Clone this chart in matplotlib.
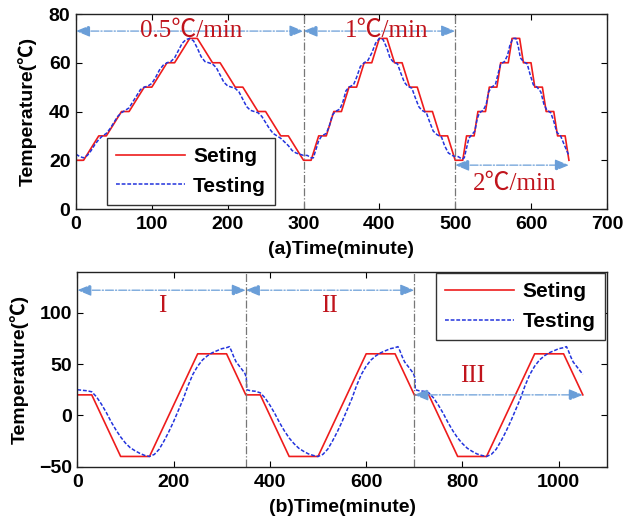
import matplotlib
matplotlib.use("Agg")
import matplotlib.pyplot as plt

# ---------------- data: panel (a) ----------------
set_a_t = [0, 10, 30, 40, 60, 70, 90, 100, 120, 130, 150, 160, 180, 190, 210, 220, 240, 250, 270, 280, 300,
           310, 320, 330, 340, 350, 360, 370, 380, 390, 400, 410, 420, 430, 440, 450, 460, 470, 480, 490, 500,
           510, 515, 525, 530, 540, 545, 555, 560, 570, 575, 585, 590, 600, 605, 615, 620, 630, 635, 645, 650]
set_a_v = [20, 20, 30, 30, 40, 40, 50, 50, 60, 60, 70, 70, 60, 60, 50, 50, 40, 40, 30, 30, 20,
           20, 30, 30, 40, 40, 50, 50, 60, 60, 70, 70, 60, 60, 50, 50, 40, 40, 30, 30, 20,
           20, 30, 30, 40, 40, 50, 50, 60, 60, 70, 70, 60, 60, 50, 50, 40, 40, 30, 30, 20]

test_a_t = [0, 5, 10, 15, 20, 25, 30, 35, 40, 45, 50, 55, 60, 65, 70, 75, 80, 85, 90, 95, 100,
            105, 110, 115, 120, 125, 130, 135, 140, 145, 150, 155, 160, 165, 170, 175, 180, 185, 190, 195, 200,
            205, 210, 215, 220, 225, 230, 235, 240, 245, 250, 255, 260, 265, 270, 275, 280, 285, 290, 295, 300,
            305, 310, 313, 316, 320, 324, 330, 334, 338, 342, 348, 352, 356, 360, 366, 370, 375, 380, 385, 390,
            395, 400, 405, 410, 414, 418, 424, 428, 433, 437, 443, 447, 452, 456, 462, 466, 471, 476, 482, 486,
            491, 496, 500, 504, 509,
            512, 515, 518, 522, 526, 529, 532, 537, 541, 544, 548, 553, 557, 560, 565, 569, 572, 576, 580, 583,
            586, 590, 595, 599, 603, 608, 613, 617, 621, 626, 630, 634, 639, 643, 647, 650]
test_a_v = [22.5, 21.5, 21, 22, 24, 26.5, 28.5, 30, 31, 33, 35.5, 38, 39.5, 40.5, 41.5, 44, 46.5, 49, 50, 50.5, 51.5,
            54, 57, 59, 60, 60.5, 62, 65, 68, 69.5, 70, 69, 66, 62.5, 60.5, 60, 59.5, 58, 55, 52, 50.5,
            50, 49.5, 48, 45, 42, 40.5, 40, 39.5, 38, 35.5, 33, 31, 30, 29, 27.5, 26, 24, 23, 22.5, 22,
            22, 21, 21, 24, 28, 30, 31, 34, 38.5, 40, 41, 44, 48.5, 50, 51, 54, 58.5, 60, 61, 64,
            68, 70, 69.5, 66, 62, 60.5, 59.5, 56, 52, 50.5, 49.5, 46, 42, 40.5, 39.5, 36, 32, 30.5, 29.5, 26,
            23, 22, 21.5, 21.5, 20.5,
            21, 25, 29, 30.5, 32, 37, 39.5, 40.5, 43, 48, 50, 51, 56, 59.5, 60.5, 63, 67, 70, 70, 67,
            62, 60.5, 59.5, 55, 51, 50, 48, 43, 40.5, 39.5, 36, 31.5, 30, 27, 24, 22]

# ---------------- data: panel (b) ----------------
set_b_t = [0, 30, 90, 150, 250, 310, 350, 380, 440, 500, 600, 660, 700, 730, 790, 850, 950, 1010, 1050]
set_b_v = [20, 20, -40, -40, 60, 60, 20, 20, -40, -40, 60, 60, 20, 20, -40, -40, 60, 60, 20]

test_b_t = [0, 10, 20, 30, 40, 50, 60, 70, 80, 90, 100, 110, 120, 130, 140, 150, 160, 170, 180, 190, 200,
            210, 220, 230, 240, 250, 260, 270, 280, 290, 300, 310, 316, 320, 325, 330, 340, 348, 351,
            352, 360, 370, 380, 390, 400, 410, 420, 430, 440, 450, 460, 470, 480, 490, 500, 510, 520, 530, 540,
            550, 560, 570, 580, 590, 600, 610, 620, 630, 640, 650, 660, 666, 670, 675, 680, 690, 698, 701,
            702, 710, 720, 730, 740, 750, 760, 770, 780, 790, 800, 810, 820, 830, 840, 850, 860, 870, 880, 890,
            900, 910, 920, 930, 940, 950, 960, 970, 980, 990, 1000, 1010, 1016, 1020, 1025, 1030, 1040, 1050]
test_b_v = [25, 24.5, 24, 23, 18, 11, 3, -6, -14, -21, -27, -31.5, -34.5, -37, -39, -40, -38, -33, -25, -16, -6,
            5, 16, 29, 40, 48, 54, 58, 61, 63, 65, 66, 67, 63, 57, 52, 46, 41, 37,
            25, 24, 23.5, 22, 17, 10, 2, -7, -15, -22, -27.5, -32, -35, -37.5, -39, -40, -38, -33, -25, -16,
            -6, 5, 16, 29, 40, 48, 54, 58, 61, 63, 65, 66, 67, 63, 57, 52, 46, 41, 37,
            25, 24, 23.5, 22, 17, 10, 2, -7, -15, -22, -27.5, -32, -35, -37.5, -39, -40, -38, -33, -25, -16,
            -6, 5, 16, 29, 40, 48, 54, 58, 61, 63, 65, 66, 67, 63, 57, 52, 46, 40]

# annotation data
a_dividers = [300, 500]
b_dividers = [350, 700]
a_spans = [(0, 300, 73), (300, 500, 73), (500, 650, 18)]
a_labels = [("0.5℃/min", 152, 73), ("1℃/min", 409, 73), ("2℃/min", 578, 10.5)]
b_spans = [(0, 350, 122), (350, 700, 122), (700, 1050, 20)]
b_labels = [("I", 177, 107), ("II", 523, 107), ("III", 822, 38)]

RED = "#ee1c1c"
BLUE = "#2233dd"
ARROW = "#6a9ed8"
TXT = "#c0141c"
SANS = ["Liberation Sans", "Noto Sans CJK SC", "DejaVu Sans"]
SERIF = ["Liberation Serif", "Noto Sans CJK SC", "DejaVu Serif"]

fig = plt.figure(figsize=(6.26, 5.27), dpi=100)
ax1 = fig.add_axes([0.1214, 0.6034, 0.848, 0.370])
ax2 = fig.add_axes([0.1235, 0.1144, 0.846, 0.370])


def style(ax):
    ax.tick_params(direction="in", top=True, right=True, length=4, width=0.8,
                   labelsize=14)
    ax.tick_params(axis="x", pad=5)
    ax.tick_params(axis="y", pad=4)
    for lab in ax.get_xticklabels() + ax.get_yticklabels():
        lab.set_fontfamily(SANS)
        lab.set_fontweight("bold")
    for s in ax.spines.values():
        s.set_linewidth(1.0)
        s.set_color("#222222")


def arrows(ax, spans):
    for x0, x1, y in spans:
        ax.annotate("", xy=(x1, y), xytext=(x0, y),
                    arrowprops=dict(arrowstyle="<|-|>,head_length=0.85,head_width=0.35",
                                    color=ARROW, lw=0.9, linestyle="-.",
                                    shrinkA=0, shrinkB=0, mutation_scale=10))


def legend(ax, handles, loc, anchor):
    leg = ax.legend(handles=handles, loc=loc, bbox_to_anchor=anchor,
                    prop=dict(family=SANS, weight="bold", size=15), fancybox=False,
                    edgecolor="#333333", framealpha=1, handlelength=3.3, borderpad=0.45,
                    labelspacing=0.5, handletextpad=0.4, borderaxespad=0)
    leg.get_frame().set_linewidth(1.0)


# ---- panel (a)
l1, = ax1.plot(set_a_t, set_a_v, color=RED, lw=1.2, label="Seting")
l2, = ax1.plot(test_a_t, test_a_v, color=BLUE, lw=1.1, ls=(0, (2.5, 1.2)), label="Testing")
for x in a_dividers:
    ax1.axvline(x, color="#777777", lw=0.9, ls="-.")
arrows(ax1, a_spans)
for s, x, y in a_labels:
    ax1.text(x, y, s, color=TXT, fontsize=18, family=SERIF, ha="center", va="center")
ax1.set_xlim(0, 700)
ax1.set_ylim(0, 80)
ax1.set_xticks(range(0, 701, 100))
ax1.set_yticks(range(0, 81, 20))
style(ax1)
ax1.set_xlabel("(a)Time(minute)", fontsize=14, fontweight="bold", family=SANS, labelpad=6)
ax1.set_ylabel("Temperature(℃)", fontsize=14, fontweight="bold", family=SANS, labelpad=9)
legend(ax1, [l1, l2], "lower left", (0.058, 0.02))

# ---- panel (b)
m1, = ax2.plot(set_b_t, set_b_v, color=RED, lw=1.2, label="Seting")
m2, = ax2.plot(test_b_t, test_b_v, color=BLUE, lw=1.1, ls=(0, (2.5, 1.2)), label="Testing")
for x in b_dividers:
    ax2.axvline(x, color="#777777", lw=0.9, ls="-.")
arrows(ax2, b_spans)
for s, x, y in b_labels:
    ax2.text(x, y, s, color=TXT, fontsize=18, family=SERIF, ha="center", va="center")
ax2.set_xlim(0, 1100)
ax2.set_ylim(-50, 140)
ax2.set_xticks(range(0, 1001, 200))
ax2.set_yticks([-50, 0, 50, 100])
style(ax2)
ax2.set_xlabel("(b)Time(minute)", fontsize=14, fontweight="bold", family=SANS, labelpad=6)
ax2.set_ylabel("Temperature(℃)", fontsize=14, fontweight="bold", family=SANS, labelpad=7)
legend(ax2, [m1, m2], "upper right", (0.996, 0.993))

fig.savefig("out.png", dpi=100)
